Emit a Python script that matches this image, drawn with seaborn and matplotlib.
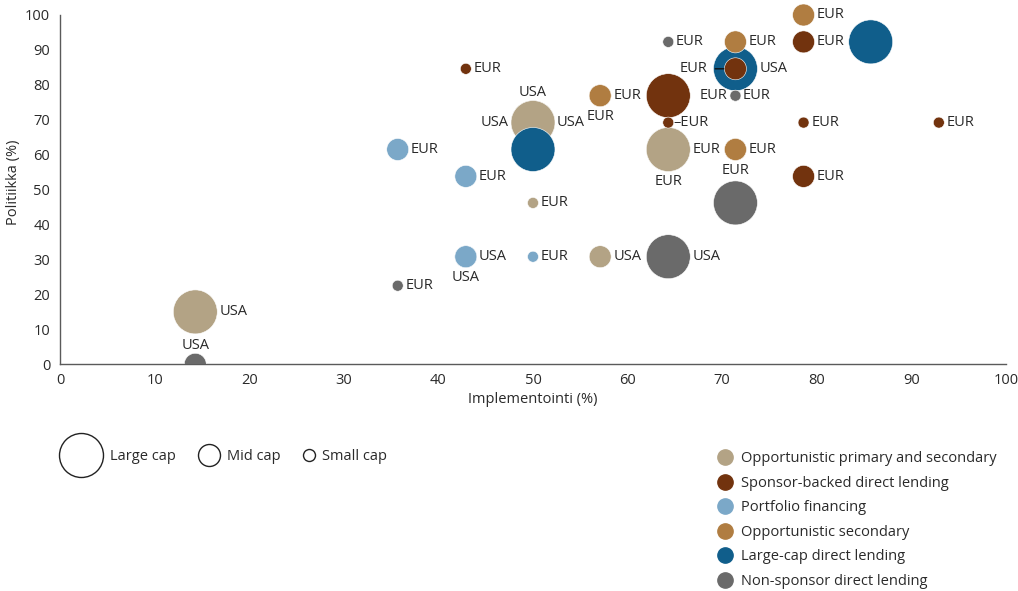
import matplotlib
matplotlib.use("Agg")
import matplotlib.pyplot as plt
from matplotlib.lines import Line2D
import seaborn as sns
import pandas as pd

# ---------------- data ----------------
categories = ["Opportunistic primary and secondary", "Sponsor-backed direct lending",
              "Portfolio financing", "Opportunistic secondary",
              "Large-cap direct lending", "Non-sponsor direct lending"]
colors = ["#B3A385", "#72330E", "#7BA8C8", "#B07D41", "#105E8B", "#6A6A6A"]
size_classes = ["Large cap", "Mid cap", "Small cap"]

implementation = [14.3, 50.0, 50.0, 50.0, 50.0, 57.1, 64.3, 64.3,
                  42.9, 64.3, 64.3, 71.4, 78.6, 78.6, 78.6, 92.9,
                  35.7, 42.9, 42.9, 42.9, 50.0,
                  78.6, 71.4, 57.1, 57.1, 71.4, 71.4,
                  85.7, 71.4, 50.0,
                  64.3, 71.4, 71.4, 35.7, 64.3, 71.4, 14.3]
policy = [15.0, 69.2, 69.2, 69.2, 46.2, 30.8, 61.5, 61.5,
          84.6, 76.9, 69.2, 84.6, 92.3, 69.2, 53.8, 69.2,
          61.5, 53.8, 30.8, 30.8, 30.8,
          100.0, 92.3, 76.9, 76.9, 61.5, 61.5,
          92.3, 84.6, 61.5,
          92.3, 76.9, 76.9, 22.5, 30.8, 46.2, 0.0]
strategy = [0] * 8 + [1] * 8 + [2] * 5 + [3] * 6 + [4] * 3 + [5] * 7
cap = ["Large cap", "Large cap", "Large cap", "Large cap", "Small cap", "Mid cap", "Large cap", "Large cap",
       "Small cap", "Large cap", "Small cap", "Mid cap", "Mid cap", "Small cap", "Mid cap", "Small cap",
       "Mid cap", "Mid cap", "Mid cap", "Mid cap", "Small cap",
       "Mid cap", "Mid cap", "Mid cap", "Mid cap", "Mid cap", "Mid cap",
       "Large cap", "Large cap", "Large cap",
       "Small cap", "Small cap", "Small cap", "Small cap", "Large cap", "Large cap", "Mid cap"]
point_labels = ["USA", "USA", "USA", "USA", "EUR", "USA", "EUR", "EUR",
                "EUR", "", "–EUR", "EUR", "EUR", "EUR", "EUR", "EUR",
                "EUR", "EUR", "USA", "USA", "EUR",
                "EUR", "EUR", "EUR", "EUR", "EUR", "EUR",
                "", "USA", "",
                "EUR", "EUR", "EUR", "EUR", "USA", "", "USA"]
label_side = ["right", "above", "left", "right", "right", "right", "right", "below",
              "right", "", "touch", "leader", "right", "right", "right", "right",
              "right", "right", "right", "below", "right",
              "right", "right", "right", "below", "right", "below",
              "", "right", "",
              "right", "left", "right", "right", "right", "", "above"]

# ---------------- styling ----------------
sns.set_theme(style="white")
plt.rcParams["font.family"] = ["Open Sans", "DejaVu Sans"]
text_color = "#2a2a2a"
fs = 10.5

df = pd.DataFrame({
    "Implementointi": implementation,
    "Politiikka": policy,
    "Strategy": [categories[i] for i in strategy],
    "Cap": cap,
    "Label": point_labels,
    "Side": label_side,
})
# draw large first, then mid, then small (keeps small bubbles on top)
df["cap_rank"] = df["Cap"].map({c: i for i, c in enumerate(size_classes)})
df["cat_rank"] = df["Strategy"].map({c: i for i, c in enumerate(categories)})
df = df.sort_values(["cap_rank", "cat_rank"], kind="stable").reset_index(drop=True)

size_px = {"Large cap": 44, "Mid cap": 22, "Small cap": 11}  # diameters in px
sizes = {k: (v * 0.72) ** 2 for k, v in size_px.items()}

W, H = 1018, 591
fig = plt.figure(figsize=(W / 100, H / 100), dpi=100)
x0, x1 = 60, 1006
y_zero, y_hundred = 364.3, 15.0
ppu = (y_zero - y_hundred) / 100
ytop = 104
top_px = y_zero - ytop * ppu
ax = fig.add_axes([x0 / W, (H - y_zero) / H, (x1 - x0) / W, (y_zero - top_px) / H])

sns.scatterplot(data=df, x="Implementointi", y="Politiikka", hue="Strategy", size="Cap",
                hue_order=categories, palette=colors, size_order=size_classes, sizes=sizes,
                edgecolor="white", linewidth=0.4, alpha=1, legend=False, ax=ax, zorder=3)

ax.set_xlim(0, 100)
ax.set_ylim(0, ytop)
ax.set_xticks(range(0, 101, 10))
ax.set_yticks(range(0, 101, 10))
ax.tick_params(axis="both", length=0, labelsize=fs, colors=text_color)
ax.tick_params(axis="x", pad=6)
ax.tick_params(axis="y", pad=7)
for s in ["top", "right"]:
    ax.spines[s].set_visible(False)
for s in ["left", "bottom"]:
    ax.spines[s].set_color("#5a5a5a")
    ax.spines[s].set_linewidth(1.0)
ax.spines["left"].set_bounds(0, 100)
ax.set_xlabel("Implementointi (%)", fontsize=fs, color=text_color, labelpad=3)
ax.set_ylabel("Politiikka (%)", fontsize=fs, color=text_color, labelpad=3)

# point labels
for _, r in df.iterrows():
    if not r["Label"]:
        continue
    rad = size_px[r["Cap"]] / 2 * 0.72  # points
    side = r["Side"]
    xy = (r["Implementointi"], r["Politiikka"])
    kw = dict(xycoords="data", textcoords="offset points", fontsize=fs, color=text_color, zorder=5)
    if side == "right":
        ax.annotate(r["Label"], xy, xytext=(rad + 1.5, 0), ha="left", va="center", **kw)
    elif side == "touch":
        ax.annotate(r["Label"], xy, xytext=(rad - 0.5, 0), ha="left", va="center", **kw)
    elif side == "left":
        ax.annotate(r["Label"], xy, xytext=(-(rad + 1.5), 0), ha="right", va="center", **kw)
    elif side == "above":
        ax.annotate(r["Label"], xy, xytext=(0, rad + 0.5), ha="center", va="bottom", **kw)
    elif side == "below":
        ax.annotate(r["Label"], xy, xytext=(0, -(rad + 1.5)), ha="center", va="top", **kw)
    elif side == "leader":
        ax.annotate(r["Label"], xy, xytext=(-(rad + 12.5), 0), ha="right", va="center",
                    arrowprops=dict(arrowstyle="-", color="#111111", lw=1.0,
                                    shrinkA=3.5, shrinkB=rad + 0.5, relpos=(1, 0.5)),
                    **kw)

# size legend (three single-entry legends so each circle keeps its own width)
size_leg_y = 1 - 457 / H
size_leg_left = {"Large cap": 59, "Mid cap": 198, "Small cap": 303}
for c in size_classes:
    d = size_px[c] if c != "Small cap" else 12
    h = Line2D([], [], linestyle="none", marker="o", markersize=d * 0.72,
               markerfacecolor="white", markeredgecolor="#222222", markeredgewidth=1.0)
    lg = fig.legend([h], [c], loc="center left", bbox_to_anchor=(size_leg_left[c] / W, size_leg_y),
                    frameon=False, fontsize=fs, handlelength=d / (fs * 100 / 72),
                    handletextpad=0.5, borderpad=0, borderaxespad=0)
    for t in lg.get_texts():
        t.set_color(text_color)

# colour legend
handles = [Line2D([], [], linestyle="none", marker="o", markersize=11,
                  markerfacecolor=col, markeredgecolor=col) for col in colors]
lg = fig.legend(handles, categories, loc="upper left", bbox_to_anchor=(717 / W, 1 - 451 / H),
                frameon=False, fontsize=fs, handlelength=1.05, handletextpad=0.6,
                labelspacing=0.66, borderpad=0, borderaxespad=0)
for t in lg.get_texts():
    t.set_color(text_color)

fig.savefig("out.png", dpi=100, facecolor="white")
